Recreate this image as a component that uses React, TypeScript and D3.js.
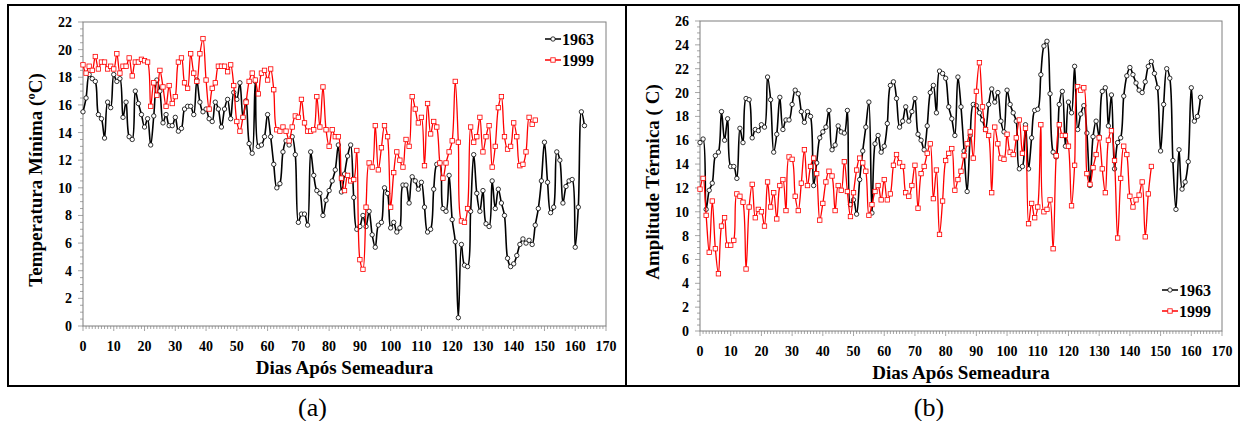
import * as d3 from 'd3';

// ---- data ----
const seriesNames = ['1963', '1999'];

// (a) minimum temperature, day after sowing = index
const tmin1963 = [
  15.5, 16.5, 18.2, 17.9, 17.7, 15.3, 15.0, 13.6, 16.2, 15.8,
  18.2, 17.7, 17.9, 15.1, 16.2, 13.7, 13.5, 17.0, 16.1, 15.3,
  14.4, 15.0, 13.1, 15.2, 17.8, 17.0, 14.7, 15.3, 14.5, 14.5,
  15.1, 14.1, 14.3, 15.7, 15.9, 15.9, 15.3, 17.8, 16.2, 15.5,
  15.7, 15.0, 14.8, 16.2, 15.7, 14.4, 15.7, 16.4, 15.0, 16.9,
  16.4, 17.6, 15.1, 16.3, 13.2, 12.5, 17.7, 13.0, 13.1, 13.7,
  15.3, 13.7, 11.7, 10.0, 10.3, 12.6, 13.4, 13.1, 13.7, 12.4,
  7.5, 8.1, 8.1, 7.3, 12.6, 10.9, 9.8, 9.6, 8.0, 9.1,
  9.8, 10.5, 11.3, 13.1, 9.7, 11.0, 12.3, 13.1, 9.3, 7.0,
  7.2, 8.0, 7.2, 8.3, 6.6, 5.7, 7.3, 7.5, 10.0, 9.6,
  7.1, 7.5, 6.8, 7.1, 10.2, 10.2, 8.9, 10.8, 10.5, 9.9,
  10.4, 8.6, 6.8, 7.0, 9.9, 11.7, 11.8, 8.5, 8.3, 10.9,
  7.7, 6.1, 0.6, 5.9, 4.4, 4.3, 8.3, 12.4, 9.6, 8.3,
  9.8, 7.4, 7.2, 10.5, 8.5, 9.9, 8.9, 8.0, 4.9, 4.3,
  4.5, 5.1, 5.9, 6.3, 6.0, 6.2, 5.9, 7.3, 8.5, 10.5,
  13.3, 10.4, 8.2, 8.6, 12.6, 12.0, 8.9, 10.1, 10.5, 10.6,
  5.7, 8.6, 15.5, 14.5,
];
const tmin1999 = [
  18.9, 18.3, 18.8, 18.5, 19.5, 18.6, 19.1, 19.1, 18.6, 18.8,
  18.6, 19.7, 18.3, 18.8, 18.8, 19.4, 18.1, 19.1, 19.1, 19.3,
  19.2, 19.1, 15.9, 17.6, 16.7, 18.5, 17.3, 15.9, 17.4, 16.1,
  16.6, 19.1, 19.4, 17.6, 17.2, 19.7, 18.3, 17.7, 19.7, 20.8,
  17.8, 15.7, 17.2, 17.6, 18.8, 18.8, 18.8, 18.4, 18.9, 17.4,
  14.8, 14.1, 15.1, 16.2, 17.7, 18.3, 17.8, 16.8, 18.3, 18.5,
  17.8, 18.6, 17.1, 14.2, 14.1, 14.4, 14.1, 13.4, 14.4, 15.2,
  15.1, 16.4, 14.7, 14.1, 14.1, 14.2, 16.6, 14.4, 17.3, 14.2,
  13.0, 14.2, 13.7, 13.7, 10.7, 9.8, 10.9, 10.5, 10.6, 12.7,
  4.8, 4.1, 8.6, 11.8, 11.5, 14.5, 11.3, 12.9, 14.5, 13.7,
  8.6, 11.1, 12.6, 12.0, 11.5, 13.5, 13.0, 16.6, 15.7, 14.7,
  15.1, 11.6, 16.1, 13.9, 14.8, 14.4, 11.8, 10.7, 11.8, 12.6,
  13.4, 17.7, 13.3, 7.6, 7.5, 8.5, 14.4, 13.3, 13.7, 15.1,
  12.6, 13.7, 14.5, 11.5, 13.0, 15.8, 16.6, 13.7, 12.8, 13.0,
  14.7, 13.7, 11.6, 11.7, 12.6, 15.1, 14.6, 14.9,
];

// (b) thermal amplitude
const amp1963 = [
  15.8, 16.1, 10.2, 11.8, 12.4, 14.7, 15.0, 18.4, 16.0, 17.8,
  13.8, 13.8, 12.8, 17.0, 15.8, 19.5, 19.4, 16.2, 16.9, 16.8,
  17.3, 17.1, 21.3, 19.4, 15.0, 16.5, 19.6, 16.9, 17.7, 17.7,
  19.0, 20.2, 19.9, 18.4, 17.5, 18.4, 18.0, 12.2, 14.1, 16.2,
  16.7, 17.1, 18.5, 15.2, 15.6, 17.2, 16.7, 16.6, 18.5, 10.6,
  11.0, 9.8, 12.7, 15.1, 17.1, 19.2, 9.9, 15.7, 16.4, 15.0,
  15.5, 17.4, 20.6, 20.9, 19.5, 17.1, 17.6, 18.8, 17.6, 18.4,
  19.5, 16.5, 16.0, 15.2, 17.2, 20.0, 20.6, 18.3, 21.8, 21.6,
  21.2, 18.8, 17.8, 16.4, 21.3, 18.8, 15.1, 11.7, 16.4, 19.0,
  18.9, 18.3, 17.7, 16.9, 19.0, 20.3, 19.2, 20.0, 17.6, 16.7,
  20.2, 19.0, 18.3, 17.6, 13.6, 13.8, 17.3, 13.6, 16.2, 18.5,
  18.6, 21.5, 23.9, 24.3, 19.9, 15.0, 14.6, 19.0, 20.1, 15.5,
  19.2, 18.3, 22.2, 16.9, 18.2, 18.9, 16.6, 12.2, 16.3, 17.6,
  16.3, 20.1, 20.4, 17.2, 19.8, 13.6, 15.8, 16.2, 19.7, 21.4,
  22.1, 21.5, 20.8, 20.2, 20.0, 20.9, 22.2, 22.6, 21.6, 20.4,
  15.1, 19.0, 22.0, 21.2, 14.3, 10.2, 15.2, 11.9, 12.5, 14.2,
  20.4, 17.6, 18.0, 19.6,
];
const amp1999 = [
  11.9, 12.8, 9.7, 6.6, 10.9, 6.9, 4.8, 8.8, 9.5, 7.2,
  7.2, 7.6, 11.5, 11.3, 10.8, 5.2, 10.4, 12.3, 9.5, 10.2,
  10.0, 8.8, 12.5, 10.4, 11.6, 9.4, 12.2, 12.7, 10.1, 14.6,
  14.4, 11.3, 10.1, 12.4, 15.2, 12.2, 13.8, 14.5, 13.2, 9.3,
  10.7, 12.5, 13.4, 13.0, 10.1, 12.2, 11.8, 14.2, 11.7, 9.6,
  11.6, 13.5, 14.5, 14.1, 13.4, 9.7, 10.6, 11.7, 12.2, 11.0,
  12.7, 11.0, 11.5, 13.9, 14.8, 14.1, 13.8, 11.6, 11.3, 12.2,
  13.9, 10.3, 13.2, 13.8, 14.9, 15.7, 11.1, 13.5, 8.1, 10.9,
  14.3, 14.9, 15.3, 11.8, 12.7, 13.4, 14.7, 15.7, 16.7, 14.5,
  20.1, 22.5, 18.8, 16.9, 16.4, 11.6, 17.1, 15.7, 14.5, 14.4,
  16.5, 15.0, 14.8, 16.2, 17.7, 14.9, 17.0, 9.0, 10.7, 9.5,
  10.4, 17.3, 10.0, 10.2, 11.0, 6.9, 14.7, 17.3, 16.4, 16.4,
  15.5, 10.5, 13.9, 20.5, 20.2, 20.4, 13.2, 12.3, 13.7, 14.8,
  16.2, 13.6, 11.6, 16.0, 16.8, 14.3, 7.8, 12.8, 15.5, 14.8,
  11.3, 10.4, 11.0, 11.4, 12.5, 7.9, 11.5, 13.8,
];

const xTicks = [0, 10, 20, 30, 40, 50, 60, 70, 80, 90, 100, 110, 120, 130, 140, 150, 160, 170];
const yTicksA = [0, 2, 4, 6, 8, 10, 12, 14, 16, 18, 20, 22];
const yTicksB = [0, 2, 4, 6, 8, 10, 12, 14, 16, 18, 20, 22, 24, 26];

const FONT = "'Times New Roman', 'Liberation Serif', serif";
const AXIS = '#7f7f7f';
const RED = '#ff0000';

type PanelProps = {
  x0: number; x1: number; yTop: number; yBot: number;
  yTicks: number[]; s1963: number[]; s1999: number[];
  yTitle: string; yTitleX: number;
  legendX: number; legendY: number;
  caption: string;
};

function Marker({ cx, cy, kind }: { cx: number; cy: number; kind: number }) {
  if (kind === 0) {
    return <circle cx={cx} cy={cy} r={2.2} fill="#fff" stroke="#000" strokeWidth={0.8} />;
  }
  return <rect x={cx - 2.2} y={cy - 2.2} width={4.4} height={4.4} fill="#fff" stroke={RED} strokeWidth={0.8} />;
}

function Panel(p: PanelProps) {
  const yMax = p.yTicks[p.yTicks.length - 1];
  const x = d3.scaleLinear().domain([0, 170]).range([p.x0, p.x1]);
  const y = d3.scaleLinear().domain([0, yMax]).range([p.yBot, p.yTop]);
  const line = d3.line<number>()
    .x((_, i) => x(i))
    .y(v => y(v))
    .curve(d3.curveCatmullRom.alpha(0.5));

  const minorX = d3.range(0, 171, 1);
  const minorY = d3.range(0, yMax + 0.01, 0.5);
  const series = [p.s1963, p.s1999];
  const colors = ['#000', RED];
  const cx = (p.x0 + p.x1) / 2;
  const cy = (p.yTop + p.yBot) / 2;

  return (
    <g style={{ fontFamily: FONT }}>
      <rect x={p.x0} y={p.yTop} width={p.x1 - p.x0} height={p.yBot - p.yTop} fill="none" stroke={AXIS} strokeWidth={1} />
      {minorX.map(d => (
        <line key={'mx' + d} x1={x(d)} x2={x(d)} y1={p.yBot} y2={p.yBot + (d % 10 === 0 ? 5 : 3)} stroke={AXIS} strokeWidth={0.7} />
      ))}
      {minorY.map(v => (
        <line key={'my' + v} x1={p.x0 - (v % 2 === 0 ? 5 : 3)} x2={p.x0} y1={y(v)} y2={y(v)} stroke={AXIS} strokeWidth={0.7} />
      ))}
      {xTicks.map(t => (
        <text key={'xt' + t} x={x(t)} y={p.yBot + 25} textAnchor="middle" fontSize={14} fontWeight="bold">{t}</text>
      ))}
      {p.yTicks.map(t => (
        <text key={'yt' + t} x={p.x0 - 11} y={y(t) + 5} textAnchor="end" fontSize={14} fontWeight="bold">{t}</text>
      ))}
      <text x={cx} y={p.yBot + 48} textAnchor="middle" fontSize={19} fontWeight="bold">Dias Após Semeadura</text>
      <text transform={`translate(${p.yTitleX},${cy + 6}) rotate(-90)`} textAnchor="middle" dominantBaseline="middle" fontSize={19} fontWeight="bold">{p.yTitle}</text>

      {series.map((s, k) => (
        <g key={'s' + k}>
          <path d={line(s) ?? ''} fill="none" stroke={colors[k]} strokeWidth={k === 0 ? 1.6 : 1.3} />
          {s.map((v, i) => <Marker key={i} cx={x(i)} cy={y(v)} kind={k} />)}
        </g>
      ))}

      {seriesNames.map((n, k) => (
        <g key={'lg' + n} transform={`translate(${p.legendX},${p.legendY + k * 21})`}>
          <line x1={0} x2={16} y1={0} y2={0} stroke={colors[k]} strokeWidth={1.5} />
          <Marker cx={8} cy={0} kind={k} />
          <text x={17} y={5.5} fontSize={16} fontWeight="bold">{n}</text>
        </g>
      ))}

      <text x={cx - 32} y={416} textAnchor="middle" fontSize={26}>{p.caption}</text>
    </g>
  );
}

export default function App() {
  return (
    <svg width={1245} height={421} style={{ position: 'absolute', left: 0, top: 0, background: '#fff' }}>
      <rect x={0} y={0} width={1245} height={421} fill="#fff" />
      <rect x={8} y={5} width={1231} height={381} fill="none" stroke="#000" strokeWidth={2} />
      <line x1={626} x2={626} y1={5} y2={386} stroke="#000" strokeWidth={2} />
      <Panel x0={83} x1={606} yTop={22} yBot={326} yTicks={yTicksA}
        s1963={tmin1963} s1999={tmin1999}
        yTitle="Temperatura Mínima (ºC)" yTitleX={38}
        legendX={545} legendY={39} caption="(a)" />
      <Panel x0={700} x1={1222} yTop={21} yBot={331} yTicks={yTicksB}
        s1963={amp1963} s1999={amp1999}
        yTitle="Amplitude Térmica ( C)" yTitleX={655}
        legendX={1162} legendY={290} caption="(b)" />
    </svg>
  );
}
